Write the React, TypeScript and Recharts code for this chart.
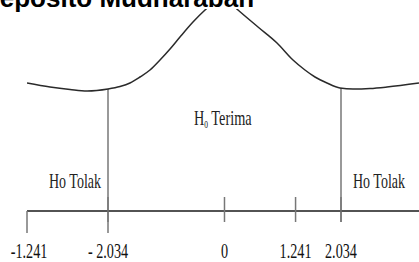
import React from "react";
import { LineChart, Line, XAxis, YAxis, ReferenceLine } from "recharts";

// kurva uji t (sketsa)
const curveX = [
  -3.448, -3.046, -2.697, -2.4, -2.034, -1.824, -1.65, -1.475, -1.301, -1.126, -0.951, -0.777, -0.55, -0.34,
  -0.201, -0.061, 0.079, 0.236, 0.585, 0.917, 1.196, 1.405, 1.58, 1.789, 2.016, 2.243, 2.54, 2.837, 3.396,
];
const curveY = [
  1.28, 1.24, 1.215, 1.2, 1.22, 1.245, 1.28, 1.34, 1.41, 1.51, 1.62, 1.74, 1.89, 2.01,
  2.08, 2.11, 2.09, 2.01, 1.84, 1.68, 1.51, 1.41, 1.34, 1.28, 1.23, 1.22, 1.225, 1.24, 1.28,
];

const tickValues = [-3.448, -2.034, 0, 1.241, 2.034];
const tickLabels = ["-1.241", "- 2.034", "0", "1.241", "2.034"];

const criticalX = [-2.034, 2.034];
const criticalTop = [1.22, 1.23];
const criticalBottom = [-0.22, -0.11];

const title = "Deposito Mudharabah";
const rejectLabel = "Ho Tolak";
const acceptLabel = "Terima";

const data = curveX.map((x, i) => ({ x, y: curveY[i] }));

const serif = "'Liberation Serif', 'Times New Roman', serif";

const AxisTick = (props: any) => {
  const { x, y, index } = props;
  const first = index === 0;
  return (
    <g>
      <line
        x1={x}
        x2={x}
        y1={first ? y : y - 14}
        y2={first ? y + 22 : y + 11}
        stroke="#777"
        strokeWidth={1.5}
      />
      <text
        transform={`translate(${x + (first ? 2 : 0)},${y + 47}) scale(0.71,1)`}
        textAnchor="middle"
        fontFamily={serif}
        fontSize={20}
        fill="#111"
      >
        {tickLabels[index]}
      </text>
    </g>
  );
};

const App: React.FC = () => {
  return (
    <div style={{ position: "absolute", left: 0, top: 0, width: 419, height: 262, background: "#fff" }}>
      <LineChart
        width={419}
        height={262}
        data={data}
        margin={{ top: 9, right: 0, bottom: 0, left: 27 }}
      >
        <XAxis
          type="number"
          dataKey="x"
          domain={[-3.448, 3.396]}
          allowDataOverflow
          ticks={tickValues}
          interval={0}
          height={51}
          tickSize={0}
          tickMargin={0}
          tick={<AxisTick />}
          axisLine={{ stroke: "#1a1a1a", strokeWidth: 1.6 }}
        />
        <YAxis hide type="number" domain={[0, 2.02]} allowDataOverflow />
        {criticalX.map((cx, i) => (
          <ReferenceLine
            key={cx}
            segment={[
              { x: cx, y: criticalTop[i] },
              { x: cx, y: criticalBottom[i] },
            ]}
            stroke="#999"
            strokeWidth={2}
            ifOverflow="visible"
          />
        ))}
        <Line
          type="monotone"
          dataKey="y"
          stroke="#2a2a2a"
          strokeWidth={1.5}
          dot={false}
          isAnimationActive={false}
        />
      </LineChart>
      <svg
        width={419}
        height={262}
        style={{ position: "absolute", left: 0, top: 0, pointerEvents: "none" }}
      >
        <rect x={0} y={0} width={270} height={9} fill="#fff" />
        <text x={-19} y={7} fontFamily="'Liberation Sans', Arial, sans-serif" fontWeight="bold" fontSize={26} fill="#000">
          {title}
        </text>
        <text
          transform="translate(75,188) scale(0.7,1)"
          textAnchor="middle"
          fontFamily={serif}
          fontSize={20}
          fill="#222"
        >
          {rejectLabel}
        </text>
        <text
          transform="translate(379,188) scale(0.7,1)"
          textAnchor="middle"
          fontFamily={serif}
          fontSize={20}
          fill="#222"
        >
          {rejectLabel}
        </text>
        <text transform="translate(194,125) scale(0.68,1)" fontFamily={serif} fontSize={21} fill="#222">
          H
          <tspan fontSize={11} dy={3} fill="#222">0</tspan>
          <tspan dy={-3} fill="#222"> {acceptLabel}</tspan>
        </text>
      </svg>
    </div>
  );
};

export default App;
